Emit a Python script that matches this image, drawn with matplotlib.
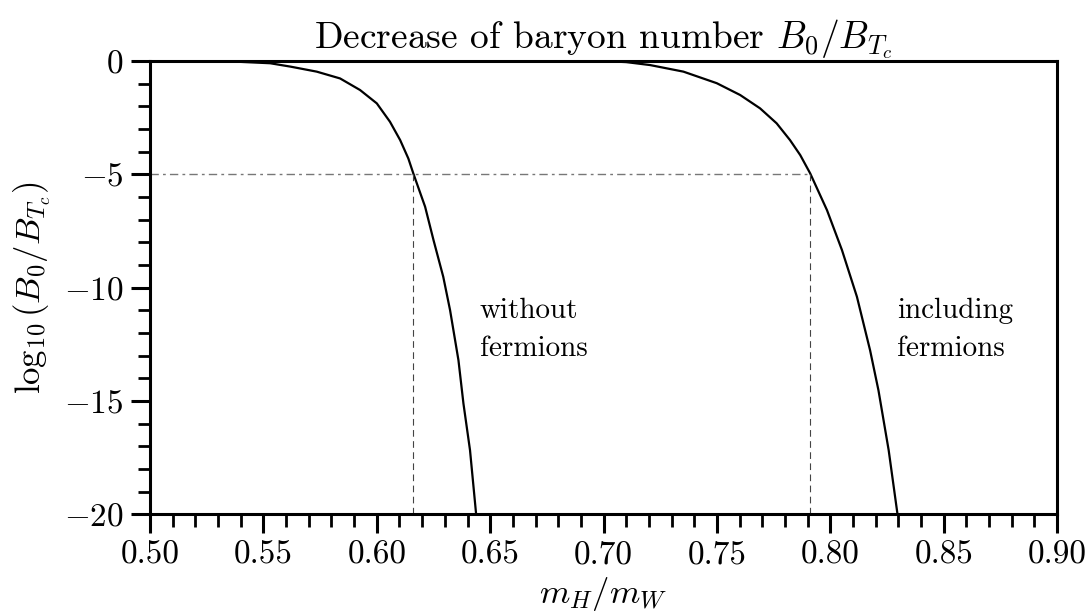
import matplotlib
matplotlib.use("Agg")
import matplotlib.pyplot as plt
from matplotlib.ticker import MultipleLocator

plt.rcParams['font.family'] = 'cmr10'
plt.rcParams['mathtext.fontset'] = 'cm'
plt.rcParams['axes.formatter.use_mathtext'] = True

# curve without fermions
x_nof = [0.500, 0.520, 0.540, 0.553, 0.562, 0.5735, 0.5838, 0.5926, 0.600, 0.6058,
         0.6103, 0.6139, 0.6161, 0.6213, 0.625, 0.6293, 0.6323, 0.636, 0.6382,
         0.6411, 0.6438]
y_nof = [0.0, -0.01, -0.04, -0.1, -0.25, -0.47, -0.77, -1.28, -1.87, -2.68,
         -3.49, -4.3, -4.96, -6.43, -7.9, -9.52, -10.99, -13.2, -15.11,
         -17.17, -20.0]

# curve including fermions
x_inc = [0.699, 0.710, 0.7205, 0.7352, 0.7499, 0.7602, 0.769, 0.7763, 0.7822, 0.7867,
         0.7911, 0.7985, 0.8051, 0.8117, 0.8175, 0.8212, 0.8257, 0.8296]
y_inc = [0.0, -0.05, -0.18, -0.47, -0.98, -1.5, -2.09, -2.75, -3.49, -4.15,
         -4.96, -6.58, -8.34, -10.4, -12.76, -14.53, -17.17, -20.0]

level = -5.0
x_cross = [0.616, 0.791]

fig = plt.figure(figsize=(10.91, 6.16), dpi=100)
ax = fig.add_axes([0.1375, 0.165, 0.8315, 0.736])

ax.plot(x_nof, y_nof, color='black', lw=1.6)
ax.plot(x_inc, y_inc, color='black', lw=1.6)

ax.plot([0.5, x_cross[1]], [level, level], color='#777777', lw=1.0,
        dashes=(6, 3, 2, 3))
for xc in x_cross:
    ax.plot([xc, xc], [level, -20], color='#444444', lw=0.8, dashes=(6, 4))

ax.text(0.6455, -10.45, 'without\nfermions', fontsize=21, va='top', ha='left',
        linespacing=1.55)
ax.text(0.8295, -10.45, 'including\nfermions', fontsize=21, va='top', ha='left',
        linespacing=1.55)

ax.set_xlim(0.5, 0.9)
ax.set_ylim(-20, 0)
ax.xaxis.set_minor_locator(MultipleLocator(0.01))
ax.yaxis.set_minor_locator(MultipleLocator(1))
ax.set_xticks([0.5 + 0.05 * i for i in range(9)])
ax.set_xticklabels(['%.2f' % (0.5 + 0.05 * i) for i in range(9)])
ax.set_yticks([0, -5, -10, -15, -20])
ax.set_yticklabels(['$0$', '$-5$', '$-10$', '$-15$', '$-20$'])

ax.tick_params(which='major', direction='out', length=14, width=2.2,
               labelsize=24, pad=5)
ax.tick_params(which='minor', direction='out', length=9, width=2.0)
for s in ax.spines.values():
    s.set_linewidth(2.2)

ax.set_title(r'Decrease of baryon number $B_{\mathbf{0}}/B_{T_c}$',
             fontsize=27, pad=8)
ax.set_xlabel(r'$m_H/m_W$', fontsize=25, labelpad=4)
ax.set_ylabel(r'$\log_{10}(B_0/B_{T_c})$', fontsize=25, labelpad=8)

fig.savefig('out.png', dpi=100)
